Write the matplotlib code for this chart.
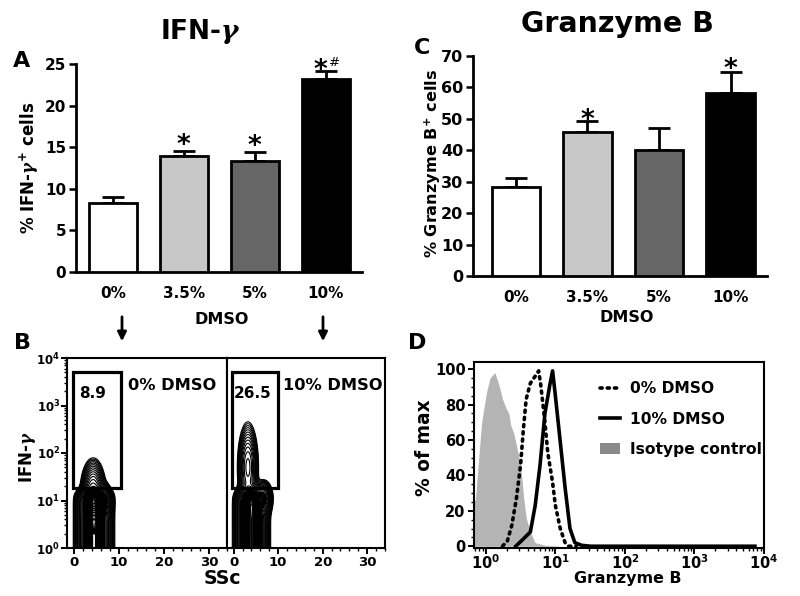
import matplotlib
matplotlib.use("Agg")
import matplotlib.pyplot as plt
import numpy as np
from matplotlib.patches import Rectangle, Patch, FancyArrowPatch
from matplotlib.lines import Line2D
from matplotlib.ticker import MultipleLocator, LogLocator, NullFormatter

plt.rcParams['font.family'] = ['DejaVu Sans']
plt.rcParams['font.weight'] = 'bold'
plt.rcParams['axes.labelweight'] = 'bold'
plt.rcParams['mathtext.fontset'] = 'custom'
plt.rcParams['mathtext.rm'] = 'DejaVu Sans:bold'
plt.rcParams['mathtext.bf'] = 'DejaVu Sans:bold'
plt.rcParams['mathtext.it'] = 'DejaVu Serif:italic'
plt.rcParams['mathtext.default'] = 'rm'

# ---- data ----
dmso = ['0%', '3.5%', '5%', '10%']
bar_colors = ['white', '#c8c8c8', '#666666', 'black']

ifng_mean = [8.3, 13.9, 13.3, 23.2]
ifng_err = [0.7, 0.6, 1.1, 1.0]

gzmb_mean = [28.4, 45.7, 40.2, 58.1]
gzmb_err = [2.7, 3.6, 7.0, 6.7]

# flow gates (panel B)
gate_pct = ['8.9', '26.5']
gate_names = ['0% DMSO', '10% DMSO']
# main cell cloud: x centre, sd x, top (log10 y), edge softness, weight
core0 = [4.5, 1.55, 1.15, 0.05, 1.0]
core10 = [4.0, 1.45, 1.15, 0.06, 1.0]
# extra blobs: x centre, log10 y centre, sd x, sd log10 y, weight
blobs0 = [[6.8, 1.00, 0.8, 0.15, 0.20],
          [4.3, 1.20, 1.15, 0.28, 0.27]]
blobs10 = [[6.8, 1.05, 0.8, 0.15, 0.30],
           [3.2, 1.70, 1.00, 0.40, 0.21]]

# histograms (panel D), x given as log10 of intensity
iso_lx = [-0.17, -0.15, -0.11, -0.06, 0.01, 0.06, 0.13, 0.19, 0.24, 0.29, 0.33,
          0.36, 0.40, 0.44, 0.50, 0.54, 0.58, 0.64, 0.71, 0.85, 1.07, 3.87]
iso_y = [26, 26, 46, 70, 87, 95, 98, 91, 83, 78, 75, 68, 64, 57, 46, 29, 16, 8,
         2, 0.6, 0, 0]
d0_lx = [0.24, 0.31, 0.375, 0.44, 0.50, 0.54, 0.58, 0.64, 0.71, 0.76, 0.79, 0.85,
         0.89, 0.96, 1.00, 1.07, 1.14, 1.19, 1.30]
d0_y = [0, 3, 12, 27, 46, 66, 83, 92, 96, 99, 91, 70, 53, 36, 23, 10, 2, 0, 0]
d10_lx = [0.43, 0.51, 0.64, 0.71, 0.78, 0.85, 0.92, 0.96, 1.00, 1.07, 1.14, 1.21,
          1.28, 1.38, 1.51, 3.87]
d10_y = [0, 3, 8, 23, 46, 75, 91, 99, 85, 59, 33, 10, 2, 0.5, 0, 0]

W, H = 800, 596
fig = plt.figure(figsize=(W / 100, H / 100), dpi=100)


def add_ax(l, t, r, b):
    return fig.add_axes([l / W, 1 - b / H, (r - l) / W, (b - t) / H])


def ftext(x, y, s, **kw):
    fig.text(x / W, 1 - y / H, s, **kw)


def bar_panel(ax, means, errs, ylim, step, xlim, tsize):
    x = np.arange(len(means))
    ax.bar(x, means, width=0.68, color=bar_colors, edgecolor='k', linewidth=2, zorder=3)
    ax.errorbar(x, means, yerr=[np.zeros(len(errs)), errs], fmt='none', ecolor='k',
                elinewidth=2, capsize=8, capthick=2, zorder=2)
    ax.set_xlim(*xlim)
    ax.set_ylim(*ylim)
    ax.yaxis.set_major_locator(MultipleLocator(step))
    ax.set_xticks(x)
    ax.set_xticklabels(dmso)
    ax.tick_params(axis='x', length=0, pad=10, labelsize=11)
    ax.tick_params(axis='y', length=5, width=1.8, labelsize=tsize, pad=2)
    for s in ['top', 'right']:
        ax.spines[s].set_visible(False)
    for s in ['left', 'bottom']:
        ax.spines[s].set_linewidth(2)


def star(ax, x, y, dy, dx=0):
    ax.annotate('*', (x, y), xytext=(dx, dy), textcoords='offset points',
                ha='center', va='center', fontsize=19)


# ---- panel A ----
axA = add_ax(76, 64, 362, 272)
bar_panel(axA, ifng_mean, ifng_err, (0, 25), 5, (-0.52, 3.51), 11)
for i in [1, 2]:
    star(axA, i, ifng_mean[i] + ifng_err[i], 4)
star(axA, 3, ifng_mean[3] + ifng_err[3], 0, -4)
axA.annotate('#', (3, ifng_mean[3] + ifng_err[3]), xytext=(6, 6),
             textcoords='offset points', ha='center', va='center', fontsize=9.5,
             fontweight='normal')
ftext(29, 168, r'% IFN-$\mathit{\gamma}^{+}$ cells', rotation=90, ha='center',
      va='center', fontsize=12)

# ---- panel C ----
axC = add_ax(473, 56, 767, 276)
bar_panel(axC, gzmb_mean, gzmb_err, (0, 70), 10, (-0.6, 3.51), 11.5)
star(axC, 1, gzmb_mean[1] + gzmb_err[1], 0)
star(axC, 3, gzmb_mean[3] + gzmb_err[3], 1.5)
ftext(433, 164, r'% Granzyme B$^{+}$ cells', rotation=90, ha='center',
      va='center', fontsize=11.6)

# ---- panel B ----
xs = np.linspace(-1.5, 34, 420)
lys = np.linspace(0, 4, 500)
XX, LY = np.meshgrid(xs, lys)
gates = [(-0.17, 10.48), (-0.38, 9.96)]
panels = [(core0, blobs0, 67, 227), (core10, blobs10, 227, 385)]
for k, (core, blobs, l, r) in enumerate(panels):
    ax = add_ax(l, 358, r, 548)
    cx, sx, top, edge, w = core
    Z = w * np.exp(-0.5 * ((XX - cx) / sx) ** 2) / (1 + np.exp((LY - top) / edge))
    for bx, by, bsx, bsy, bw in blobs:
        Z += bw * np.exp(-0.5 * ((XX - bx) / bsx) ** 2 - 0.5 * ((LY - by) / bsy) ** 2)
    levels = np.concatenate([np.geomspace(0.012, 0.3, 14, endpoint=False),
                             np.linspace(0.3, Z.max() * 0.99, 40)])
    ax.contour(XX, 10 ** LY, Z, levels=levels, colors='k', linewidths=0.8)
    ax.set_yscale('log')
    ax.set_ylim(1, 1e4)
    ax.set_xlim(-1.5, 34)
    ax.set_xticks([0, 10, 20, 30])
    ax.xaxis.set_minor_locator(MultipleLocator(2))
    ax.tick_params(axis='x', which='major', length=4, width=1.4, labelsize=9.5, pad=2)
    ax.tick_params(axis='x', which='minor', length=2, width=1)
    for s in ax.spines.values():
        s.set_linewidth(1.5)
    if k == 0:
        ax.set_yticks([1, 10, 100, 1000, 10000])
        ax.set_yticklabels([r'$10^{%d}$' % p for p in range(5)])
        ax.yaxis.set_minor_locator(LogLocator(base=10, subs=np.arange(2, 10)))
        ax.yaxis.set_minor_formatter(NullFormatter())
        ax.tick_params(axis='y', which='major', length=4, width=1.4, labelsize=8.5, pad=1)
        ax.tick_params(axis='y', which='minor', length=2, width=1)
    else:
        ax.tick_params(axis='y', which='both', left=False, labelleft=False)
    gx0, gx1 = gates[k]
    ax.add_patch(Rectangle((gx0, 18.5), gx1 - gx0, 5000 - 18.5, fill=False,
                           edgecolor='k', linewidth=2.3, zorder=4))

ftext(93, 394, gate_pct[0], ha='center', va='center', fontsize=11)
ftext(253, 394, gate_pct[1], ha='center', va='center', fontsize=11)
ftext(172, 386, gate_names[0], ha='center', va='center', fontsize=11.7)
ftext(333, 386, gate_names[1], ha='center', va='center', fontsize=11.7)
ftext(28, 457, r'IFN-$\mathit{\gamma}$', rotation=90, ha='center', va='center',
      fontsize=12)
ftext(222, 578, 'SSc', ha='center', va='center', fontsize=13.6)

# ---- panel D ----
axD = add_ax(474, 362, 764, 548)
axD.fill_between(10 ** np.array(iso_lx), 0, iso_y, color='#b4b4b4', linewidth=0, zorder=1)
axD.plot(10 ** np.array(d0_lx), d0_y, color='k', linestyle=(0, (0.6, 1.4)),
         linewidth=2.6, dash_capstyle='round', zorder=3)
axD.plot(10 ** np.array(d10_lx), d10_y, color='k', linewidth=2.6, zorder=3)
axD.set_xscale('log')
axD.set_xlim(10 ** -0.17, 10 ** 3.87)
axD.set_ylim(-1, 104)
axD.set_xticks([1, 10, 100, 1000, 10000])
axD.set_xticklabels([r'$10^{%d}$' % p for p in range(5)])
axD.xaxis.set_minor_locator(LogLocator(base=10, subs=np.arange(2, 10)))
axD.xaxis.set_minor_formatter(NullFormatter())
axD.yaxis.set_major_locator(MultipleLocator(20))
axD.yaxis.set_minor_locator(MultipleLocator(5))
axD.tick_params(axis='both', which='major', length=4, width=1.4, labelsize=10.5)
axD.tick_params(axis='x', which='major', pad=0)
axD.tick_params(axis='y', which='major', pad=2)
axD.tick_params(axis='both', which='minor', length=2, width=1)
for s in axD.spines.values():
    s.set_linewidth(1.5)
ftext(424, 448, '% of max', rotation=90, ha='center', va='center', fontsize=13.4)
ftext(628, 579, 'Granzyme B', ha='center', va='center', fontsize=11.4)
handles = [Line2D([], [], color='k', linestyle=(0, (0.6, 1.4)), linewidth=2.6,
                  dash_capstyle='round'),
           Line2D([], [], color='k', linewidth=2.6),
           Patch(facecolor='#8a8a8a', edgecolor='none')]
axD.legend(handles, ['0% DMSO', '10% DMSO', 'Isotype control'], loc='upper left',
           bbox_to_anchor=((600 - 474) / 290, 1 - (381 - 362) / 186), frameon=False,
           fontsize=11.2, handlelength=1.3, handletextpad=0.6, labelspacing=1.0,
           borderpad=0, borderaxespad=0)

# ---- titles, letters, shared labels ----
ftext(201, 31, r'IFN-$\mathit{\gamma}$', ha='center', va='center', fontsize=19)
ftext(617, 24, 'Granzyme B', ha='center', va='center', fontsize=20.5)
ftext(22, 61, 'A', ha='center', va='center', fontsize=16)
ftext(422, 48, 'C', ha='center', va='center', fontsize=16)
ftext(23, 343, 'B', ha='center', va='center', fontsize=16)
ftext(417, 343, 'D', ha='center', va='center', fontsize=16)
ftext(222, 319, 'DMSO', ha='center', va='center', fontsize=11.5)
ftext(627, 318, 'DMSO', ha='center', va='center', fontsize=11.5)
for xp in [122, 323]:
    fig.add_artist(FancyArrowPatch((xp / W, 1 - 314 / H), (xp / W, 1 - 344 / H),
                                   transform=fig.transFigure, arrowstyle='-|>',
                                   mutation_scale=13, linewidth=2, color='k'))

fig.savefig('out.png', dpi=100)
